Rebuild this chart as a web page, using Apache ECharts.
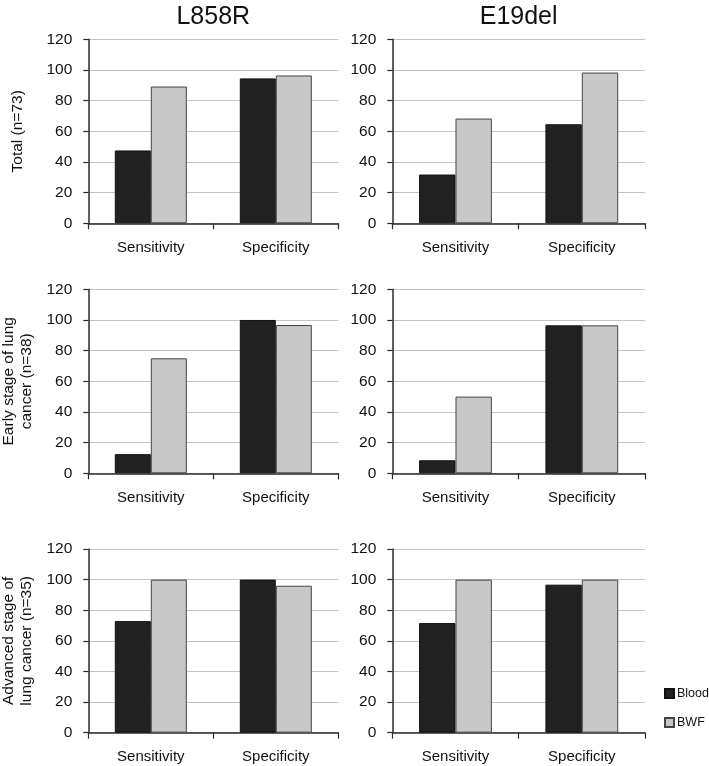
<!DOCTYPE html>
<html>
<head>
<meta charset="utf-8">
<script src="https://cdn.jsdelivr.net/npm/echarts@6/dist/echarts.min.js"></script>
<style>
html,body{margin:0;padding:0;background:#fff;}
#chart{width:709px;height:766px;}
</style>
</head>
<body>
<div id="chart"></div>
<script>
const categories = ['Sensitivity', 'Specificity'];
const columnTitles = ['L858R', 'E19del'];
const rowTitles = ['Total (n=73)', 'Early stage of lung\ncancer (n=38)', 'Advanced stage of\nlung cancer (n=35)'];
const seriesNames = ['Blood', 'BWF'];
const yMin = 0, yMax = 120, yStep = 20;

const l858rTotalBlood = [47.5, 94.5];
const l858rTotalBWF = [89.2, 96.4];
const e19delTotalBlood = [31.8, 64.6];
const e19delTotalBWF = [68.3, 98.3];
const l858rEarlyBlood = [12.5, 100];
const l858rEarlyBWF = [75.0, 96.7];
const e19delEarlyBlood = [8.5, 96.5];
const e19delEarlyBWF = [50.0, 96.5];
const l858rAdvBlood = [72.9, 100];
const l858rAdvBWF = [100, 96.0];
const e19delAdvBlood = [71.6, 96.7];
const e19delAdvBWF = [100, 100];

const panelData = [
  [l858rTotalBlood, l858rTotalBWF], [e19delTotalBlood, e19delTotalBWF],
  [l858rEarlyBlood, l858rEarlyBWF], [e19delEarlyBlood, e19delEarlyBWF],
  [l858rAdvBlood, l858rAdvBWF], [e19delAdvBlood, e19delAdvBWF]
];

const colLeft = [88.3, 392.3];
const colWidth = [250, 252.7];
const rowTop = [39.3, 289.3, 549];
const rowHeight = [184, 184, 183.7];
const FONT = "'Liberation Sans', Arial, sans-serif";

const grids = [], xAxes = [], yAxes = [], series = [];
for (let r = 0; r < 3; r++) {
  for (let c = 0; c < 2; c++) {
    const i = r * 2 + c;
    grids.push({ left: colLeft[c], top: rowTop[r], width: colWidth[c], height: rowHeight[r], containLabel: false });
    xAxes.push({
      type: 'category', gridIndex: i, data: categories,
      axisLine: { show: true, lineStyle: { color: '#2a2a2a', width: 1.5 } },
      axisTick: { show: true, length: 6, lineStyle: { color: '#2a2a2a', width: 1.2 } },
      axisLabel: { color: '#111', fontSize: 15, fontFamily: FONT, margin: 17 },
      splitLine: { show: false }
    });
    yAxes.push({
      type: 'value', gridIndex: i, min: yMin, max: yMax, interval: yStep,
      axisLine: { show: true, lineStyle: { color: '#2a2a2a', width: 1.5 } },
      axisTick: { show: true, length: 5, lineStyle: { color: '#2a2a2a', width: 1.2 } },
      axisLabel: { color: '#111', fontSize: 15.5, fontFamily: FONT, margin: 16 },
      splitLine: { show: true, lineStyle: { color: '#c4c4c4', width: 1 } }
    });
    series.push({
      name: seriesNames[0], type: 'bar', xAxisIndex: i, yAxisIndex: i,
      data: panelData[i][0], barGap: '0%', barCategoryGap: '42.4%',
      itemStyle: { color: '#222222', borderColor: '#111111', borderWidth: 1 },
      emphasis: { disabled: true }
    });
    series.push({
      name: seriesNames[1], type: 'bar', xAxisIndex: i, yAxisIndex: i,
      data: panelData[i][1], barGap: '0%', barCategoryGap: '42.4%',
      itemStyle: { color: '#c8c8c8', borderColor: '#444444', borderWidth: 1 },
      emphasis: { disabled: true }
    });
  }
}

const graphics = [];
for (let c = 0; c < 2; c++) {
  graphics.push({
    type: 'text', x: colLeft[c] + colWidth[c] / 2, y: 17,
    style: { text: columnTitles[c], font: "25px " + FONT, fill: '#111', align: 'center', verticalAlign: 'middle' }
  });
}
for (let r = 0; r < 3; r++) {
  graphics.push({
    type: 'text', x: 18, y: rowTop[r] + rowHeight[r] / 2, rotation: Math.PI / 2,
    style: { text: rowTitles[r], font: "15.5px " + FONT, fill: '#111', align: 'center', verticalAlign: 'middle', lineHeight: 18 }
  });
}

const chart = echarts.init(document.getElementById('chart'), null, { renderer: 'canvas' });
chart.setOption({
  animation: false,
  backgroundColor: '#ffffff',
  grid: grids,
  xAxis: xAxes,
  yAxis: yAxes,
  series: series,
  legend: {
    data: seriesNames, orient: 'vertical', left: 659, top: 682,
    itemWidth: 9, itemHeight: 9, itemGap: 16, icon: 'rect',
    textStyle: { fontSize: 12.5, fontFamily: FONT, color: '#111', padding: [0, 0, 0, -2] }
  },
  graphic: graphics
});
</script>
</body>
</html>
